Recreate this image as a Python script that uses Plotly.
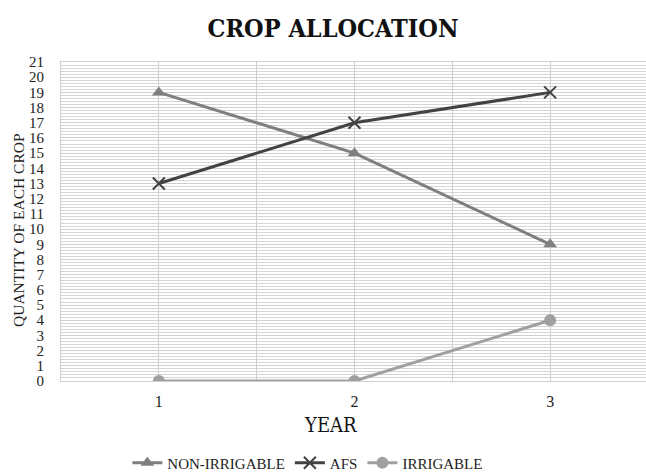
import plotly.graph_objects as go

years = [1, 2, 3]
non_irrigable = [19, 15, 9]
afs = [13, 17, 19]
irrigable = [0, 0, 4]

x_tickvals = [0.5, 1, 1.5, 2, 2.5, 3, 3.5]
x_ticktext = ["", "1", "", "2", "", "3", ""]

serif = "Liberation Serif"
heading = "DejaVu Serif Condensed, DejaVu Serif"

fig = go.Figure()
fig.add_trace(go.Scatter(
    x=years, y=non_irrigable, name="NON-IRRIGABLE", mode="lines+markers",
    line=dict(color="#7f7f7f", width=3),
    marker=dict(symbol="triangle-up", size=12, color="#7f7f7f"),
))
fig.add_trace(go.Scatter(
    x=years, y=afs, name="AFS", mode="lines+markers",
    line=dict(color="#424242", width=3),
    marker=dict(symbol="x-thin", size=12, color="#424242",
                line=dict(color="#424242", width=2)),
))
fig.add_trace(go.Scatter(
    x=years, y=irrigable, name="IRRIGABLE", mode="lines+markers",
    line=dict(color="#a0a0a0", width=3),
    marker=dict(symbol="circle", size=12, color="#a0a0a0"),
))

fig.update_layout(
    width=646, height=472,
    margin=dict(l=61, r=0, t=62, b=91, autoexpand=False),
    paper_bgcolor="white", plot_bgcolor="white",
    title=dict(text="<b>CROP ALLOCATION</b>", x=333 / 646, xanchor="center",
               y=1 - 28 / 472, yanchor="middle",
               font=dict(family=heading, size=25, color="#111111")),
    font=dict(family=serif, color="#222222"),
    showlegend=True,
    legend=dict(orientation="h", x=0.422, xanchor="center", y=-0.257,
                yanchor="middle", font=dict(family=serif, size=15, color="#222222"),
                itemwidth=30, tracegroupgap=0),
    xaxis=dict(
        range=[0.5, 3.49], tickmode="array", tickvals=x_tickvals,
        ticktext=x_ticktext, showgrid=True, gridcolor="#cfcfcf", gridwidth=1,
        zeroline=False, showline=True, linecolor="#cfcfcf", ticks="",
        ticklabelstandoff=6,
        tickfont=dict(family=serif, size=16, color="#222222"),
        mirror=True,
    ),
    yaxis=dict(
        range=[0, 21], tickmode="linear", tick0=0, dtick=1,
        showgrid=True, gridcolor="#cfcfcf", gridwidth=1,
        minor=dict(dtick=0.2, showgrid=True, gridcolor="#d6d6d6", gridwidth=1),
        zeroline=False, showline=True, linecolor="#cfcfcf", ticks="",
        ticklabelstandoff=13,
        tickfont=dict(family=serif, size=15, color="#222222"),
        mirror=True,
    ),
    annotations=[
        dict(text="YEAR", xref="paper", yref="paper",
             x=(330 - 61) / 585, y=(381 - 425) / 319,
             xanchor="center", yanchor="middle", showarrow=False,
             font=dict(family=heading, size=20, color="#111111")),
        dict(text="QUANTITY OF EACH CROP", xref="paper", yref="paper",
             x=(18 - 61) / 585, y=(381 - 230) / 319, textangle=-90,
             xanchor="center", yanchor="middle", showarrow=False,
             font=dict(family=serif, size=15.5, color="#222222")),
    ],
)

fig.write_html("out.html")
